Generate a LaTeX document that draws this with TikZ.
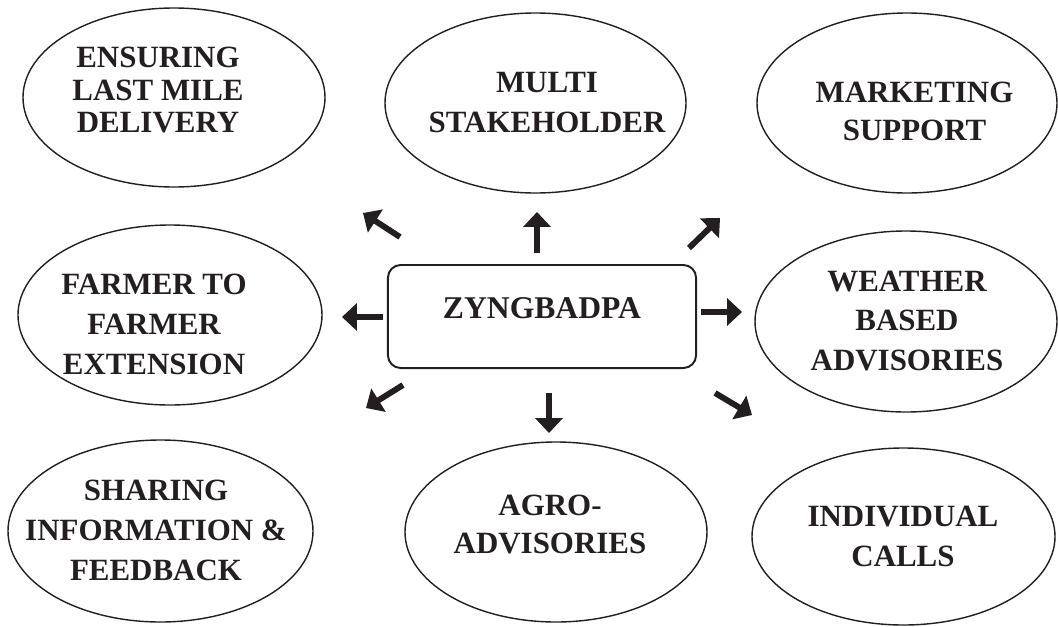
\documentclass[tikz,border=0pt]{standalone}
\usepackage{fontspec}
\setmainfont{Liberation Serif}
\usepackage{xcolor}
\usepackage{tikz}
\usetikzlibrary{arrows.meta}
\definecolor{zkink}{HTML}{231F20}

\begin{document}
\begin{tikzpicture}[
  x=0.025cm, y=-0.025cm,
  lbl/.style={align=center, text=zkink, inner sep=0pt,
              font=\bfseries\fontsize{22}{28.4}\selectfont},
  lbltight/.style={lbl, font=\bfseries\fontsize{22}{22.8}\selectfont},
  lblmid/.style={lbl, font=\bfseries\fontsize{22}{27}\selectfont},
  oval/.style={draw=zkink, line width=1pt},
  hub/.style={draw=zkink, line width=1.4pt, rounded corners=9pt, align=center,
              text=zkink, font=\bfseries\fontsize{22.5}{27}\selectfont,
              minimum width=7.7cm, minimum height=2.575cm, text depth=12pt, inner sep=0pt},
  push/.style={-{Triangle[length=10.5pt,width=19pt]}, line width=4.2pt, zkink},
]
\useasboundingbox (0,0) rectangle (1058,626);

\node[hub] (zyng) at (542,316.5) {ZYNGBADPA};

\node[lbltight] (ensure) at (158,90) {ENSURING\\LAST MILE\\DELIVERY};
\node[lbl] (multi) at (547,102.5) {MULTI\\STAKEHOLDER};
\node[lblmid] (market) at (914.5,111) {MARKETING\\SUPPORT};
\node[lbl] (farmer) at (154,324) {FARMER TO\\FARMER\\EXTENSION};
\node[lbl] (weather) at (907,321) {WEATHER\\BASED\\ADVISORIES};
\node[lbl] (share) at (156,530) {SHARING\\INFORMATION \&\\FEEDBACK};
\node[lblmid] (agro) at (550,524) {AGRO-\\ADVISORIES};
\node[lbl] (indiv) at (903,536) {INDIVIDUAL\\CALLS};

\draw[oval] (174,97.5) ellipse [x radius=151, y radius=89.5];
\draw[oval] (535.5,103) ellipse [x radius=150.5, y radius=90];
\draw[oval] (907,103) ellipse [x radius=150, y radius=90];
\draw[oval] (170,315) ellipse [x radius=152, y radius=90];
\draw[oval] (906,321.5) ellipse [x radius=151, y radius=90.5];
\draw[oval] (160.5,531) ellipse [x radius=152.5, y radius=91];
\draw[oval] (556,532) ellipse [x radius=151, y radius=90];
\draw[oval] (903.5,536.5) ellipse [x radius=151.5, y radius=88.5];

\coordinate (nw-a) at (400,237); \coordinate (nw-b) at (363,213);
\coordinate (n-a) at (537,253);  \coordinate (n-b) at (537,212);
\coordinate (ne-a) at (689,248); \coordinate (ne-b) at (720,218);
\coordinate (w-a) at (383,317);  \coordinate (w-b) at (342,317);
\coordinate (e-a) at (701,312);  \coordinate (e-b) at (742,312);
\coordinate (sw-a) at (403,385); \coordinate (sw-b) at (366,408);
\coordinate (s-a) at (549,393);  \coordinate (s-b) at (549,433);
\coordinate (se-a) at (715,393); \coordinate (se-b) at (752,415);

\foreach \d in {nw,n,ne,w,e,sw,s,se}
  \draw[push] (\d-a) -- (\d-b);

\end{tikzpicture}
\end{document}
